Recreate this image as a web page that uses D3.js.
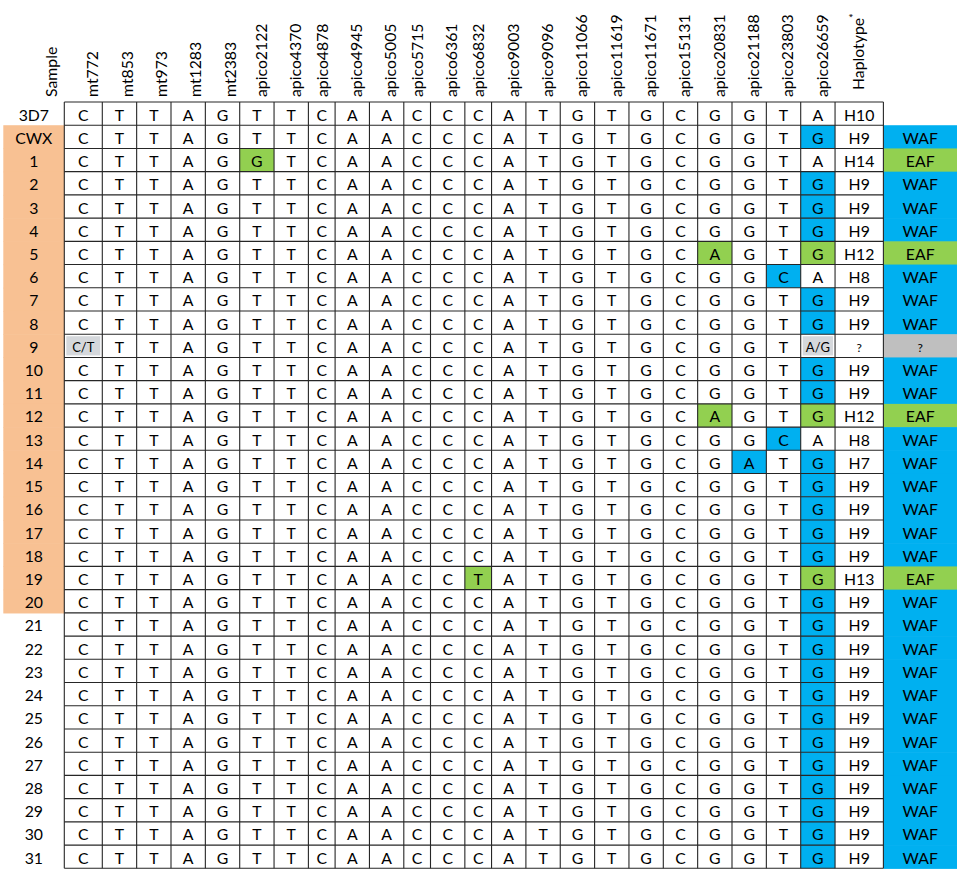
<!DOCTYPE html>
<html>
<head>
<meta charset="utf-8">
<script src="https://cdn.jsdelivr.net/npm/d3@7"></script>
<style>
  html, body { margin: 0; padding: 0; background: #fff; }
  svg text { font-family: Lato, "Open Sans", sans-serif; fill: #000; }
</style>
</head>
<body>
<svg id="snp_table"></svg>
<script>
const loci = ["mt772", "mt853", "mt973", "mt1283", "mt2383", "apico2122", "apico4370",
    "apico4878", "apico4945", "apico5005", "apico5715", "apico6361", "apico6832",
    "apico9003", "apico9096", "apico11066", "apico11619", "apico11671", "apico15131",
    "apico20831", "apico21188", "apico23803", "apico26659"];

const samples = ["3D7", "CWX", "1", "2", "3", "4", "5", "6", "7", "8", "9", "10", "11", "12",
    "13", "14", "15", "16", "17", "18", "19", "20", "21", "22", "23", "24", "25", "26", "27",
    "28", "29", "30", "31"];

// samples shaded orange in the first column
const studySamples = ["CWX", "1", "2", "3", "4", "5", "6", "7", "8", "9", "10", "11", "12",
    "13", "14", "15", "16", "17", "18", "19", "20"];

// one string per sample, alleles in the order of loci
const genotypes = [
    "C T T A G T T C A A C C C A T G T G C G G T A",   // 3D7
    "C T T A G T T C A A C C C A T G T G C G G T G",   // CWX
    "C T T A G G T C A A C C C A T G T G C G G T A",   // 1
    "C T T A G T T C A A C C C A T G T G C G G T G",   // 2
    "C T T A G T T C A A C C C A T G T G C G G T G",   // 3
    "C T T A G T T C A A C C C A T G T G C G G T G",   // 4
    "C T T A G T T C A A C C C A T G T G C A G T G",   // 5
    "C T T A G T T C A A C C C A T G T G C G G C A",   // 6
    "C T T A G T T C A A C C C A T G T G C G G T G",   // 7
    "C T T A G T T C A A C C C A T G T G C G G T G",   // 8
    "C/T T T A G T T C A A C C C A T G T G C G G T A/G", // 9
    "C T T A G T T C A A C C C A T G T G C G G T G",   // 10
    "C T T A G T T C A A C C C A T G T G C G G T G",   // 11
    "C T T A G T T C A A C C C A T G T G C A G T G",   // 12
    "C T T A G T T C A A C C C A T G T G C G G C A",   // 13
    "C T T A G T T C A A C C C A T G T G C G A T G",   // 14
    "C T T A G T T C A A C C C A T G T G C G G T G",   // 15
    "C T T A G T T C A A C C C A T G T G C G G T G",   // 16
    "C T T A G T T C A A C C C A T G T G C G G T G",   // 17
    "C T T A G T T C A A C C C A T G T G C G G T G",   // 18
    "C T T A G T T C A A C C T A T G T G C G G T G",   // 19
    "C T T A G T T C A A C C C A T G T G C G G T G",   // 20
    "C T T A G T T C A A C C C A T G T G C G G T G",   // 21
    "C T T A G T T C A A C C C A T G T G C G G T G",   // 22
    "C T T A G T T C A A C C C A T G T G C G G T G",   // 23
    "C T T A G T T C A A C C C A T G T G C G G T G",   // 24
    "C T T A G T T C A A C C C A T G T G C G G T G",   // 25
    "C T T A G T T C A A C C C A T G T G C G G T G",   // 26
    "C T T A G T T C A A C C C A T G T G C G G T G",   // 27
    "C T T A G T T C A A C C C A T G T G C G G T G",   // 28
    "C T T A G T T C A A C C C A T G T G C G G T G",   // 29
    "C T T A G T T C A A C C C A T G T G C G G T G",   // 30
    "C T T A G T T C A A C C C A T G T G C G G T G"    // 31
];

const haplotypes = ["H10", "H9", "H14", "H9", "H9", "H9", "H12", "H8", "H9", "H9", "?",
    "H9", "H9", "H12", "H8", "H7", "H9", "H9", "H9", "H9", "H13", "H9", "H9", "H9", "H9",
    "H9", "H9", "H9", "H9", "H9", "H9", "H9", "H9"];

const regions = ["", "WAF", "EAF", "WAF", "WAF", "WAF", "EAF", "WAF", "WAF", "WAF", "?",
    "WAF", "WAF", "EAF", "WAF", "WAF", "WAF", "WAF", "WAF", "WAF", "EAF", "WAF", "WAF",
    "WAF", "WAF", "WAF", "WAF", "WAF", "WAF", "WAF", "WAF", "WAF", "WAF"];

const haplotypeLabel = "Haplotype";
const sampleLabel = "Sample";

// ---- layout ----
const svg_size = {width: 957, height: 877};
const table = {left: 64.3, top: 102, bottom: 868.3, right: 883.4, sampleLeft: 3.3};
const narrowLoci = ["apico4878", "apico5715", "apico6832"];
const regionColor = {WAF: "#00B0F0", EAF: "#92D050", "?": "#BFBFBF"};
const ambiguousFill = "#D5D8DC";
const fs = 15.8;

const colWidth = name => name === "mt772" ? 38 : (narrowLoci.includes(name) ? 26.7 : 34.35);
const columns = [...loci, haplotypeLabel];
const edges = [table.left];
loci.forEach(l => edges.push(edges[edges.length - 1] + colWidth(l)));
edges.push(table.right);

const x = d3.scaleOrdinal().domain(columns).range(edges.slice(0, -1));
const w = d3.scaleOrdinal().domain(columns).range(d3.pairs(edges).map(([a, b]) => b - a));
const y = d3.scaleBand().domain(samples).range([table.top, table.bottom]);

const svg = d3.select("#snp_table")
    .attr("width", svg_size.width)
    .attr("height", svg_size.height);

const rows = samples.map((s, i) => ({
    sample: s,
    alleles: genotypes[i].split(" "),
    haplotype: haplotypes[i],
    region: regions[i]
}));
const ref = rows[0].alleles;

// sample column shading
svg.append("g").selectAll("rect")
    .data(samples.filter(s => studySamples.includes(s)))
    .enter().append("rect")
    .attr("x", table.sampleLeft)
    .attr("y", d => y(d))
    .attr("width", table.left - table.sampleLeft)
    .attr("height", y.bandwidth() + 0.6)
    .attr("fill", "#F8C193");

// region column shading
svg.append("g").selectAll("rect")
    .data(rows.filter(r => r.region))
    .enter().append("rect")
    .attr("x", table.right)
    .attr("y", d => y(d.sample))
    .attr("width", svg_size.width - table.right)
    .attr("height", y.bandwidth() + 0.6)
    .attr("fill", d => regionColor[d.region]);

// cells
const cells = rows.flatMap(r => r.alleles.map((a, j) => ({
    sample: r.sample, locus: loci[j], allele: a, region: r.region,
    changed: a !== ref[j]
})));

svg.append("g").selectAll("rect")
    .data(cells.filter(c => c.changed))
    .enter().append("rect")
    .attr("x", d => x(d.locus) + (d.allele.includes("/") ? 2 : 0))
    .attr("y", d => y(d.sample) + (d.allele.includes("/") ? 2 : 0))
    .attr("width", d => w(d.locus) - (d.allele.includes("/") ? 4 : 0))
    .attr("height", d => y.bandwidth() - (d.allele.includes("/") ? 4 : 0))
    .attr("fill", d => d.allele.includes("/") ? ambiguousFill : regionColor[d.region]);

// grid
const grid = svg.append("g").attr("stroke", "#262626").attr("stroke-width", 1.1);
grid.selectAll("line.h")
    .data(d3.range(samples.length + 1))
    .enter().append("line")
    .attr("x1", table.left).attr("x2", table.right)
    .attr("y1", i => table.top + i * y.step())
    .attr("y2", i => table.top + i * y.step());
grid.selectAll("line.v")
    .data(edges)
    .enter().append("line")
    .attr("x1", d => d).attr("x2", d => d)
    .attr("y1", table.top).attr("y2", table.bottom);

const baseY = s => y(s) + y.bandwidth() - 4.6;
const sizeOf = t => t.includes("/") ? 13 : (t === "?" ? 12 : fs);

// cell texts
svg.append("g").selectAll("text")
    .data(cells)
    .enter().append("text")
    .attr("x", d => x(d.locus) + w(d.locus) / 2)
    .attr("y", d => baseY(d.sample) - (d.allele.includes("/") ? 0.5 : 0))
    .attr("text-anchor", "middle")
    .attr("font-size", d => sizeOf(d.allele))
    .text(d => d.allele);

// sample labels
svg.append("g").selectAll("text")
    .data(samples)
    .enter().append("text")
    .attr("x", (table.sampleLeft + table.left) / 2)
    .attr("y", d => baseY(d))
    .attr("text-anchor", "middle")
    .attr("font-size", fs)
    .text(d => d);

// haplotype column
svg.append("g").selectAll("text")
    .data(rows)
    .enter().append("text")
    .attr("x", x(haplotypeLabel) + w(haplotypeLabel) / 2)
    .attr("y", d => baseY(d.sample) - (d.haplotype === "?" ? 1 : 0))
    .attr("text-anchor", "middle")
    .attr("font-size", d => sizeOf(d.haplotype))
    .text(d => d.haplotype);

// region column
svg.append("g").selectAll("text")
    .data(rows.filter(r => r.region))
    .enter().append("text")
    .attr("x", (table.right + svg_size.width) / 2)
    .attr("y", d => baseY(d.sample) - (d.region === "?" ? 1 : 0))
    .attr("text-anchor", "middle")
    .attr("font-size", d => sizeOf(d.region))
    .attr("fill", "#111")
    .text(d => d.region);

// rotated headers
const headerBottom = table.top - 5;
const hasDesc = t => /[gpqy]/.test(t);
svg.append("g").selectAll("text")
    .data([sampleLabel, ...loci].map(l => ({label: l, right: l === sampleLabel ? table.left : x(l) + w(l)})))
    .enter().append("text")
    .attr("transform", d => `translate(${d.right - 4 - (hasDesc(d.label) ? 3.4 : 0)},${headerBottom}) rotate(-90)`)
    .attr("font-size", fs)
    .text(d => d.label);

const hap = svg.append("text")
    .attr("transform", `translate(${x(haplotypeLabel) + w(haplotypeLabel) / 2 + 4.5},${headerBottom - 7}) rotate(-90)`)
    .attr("font-size", fs);
hap.append("tspan").text(haplotypeLabel);
hap.append("tspan").attr("dy", -6).attr("font-size", 11).text("*");
</script>
</body>
</html>
